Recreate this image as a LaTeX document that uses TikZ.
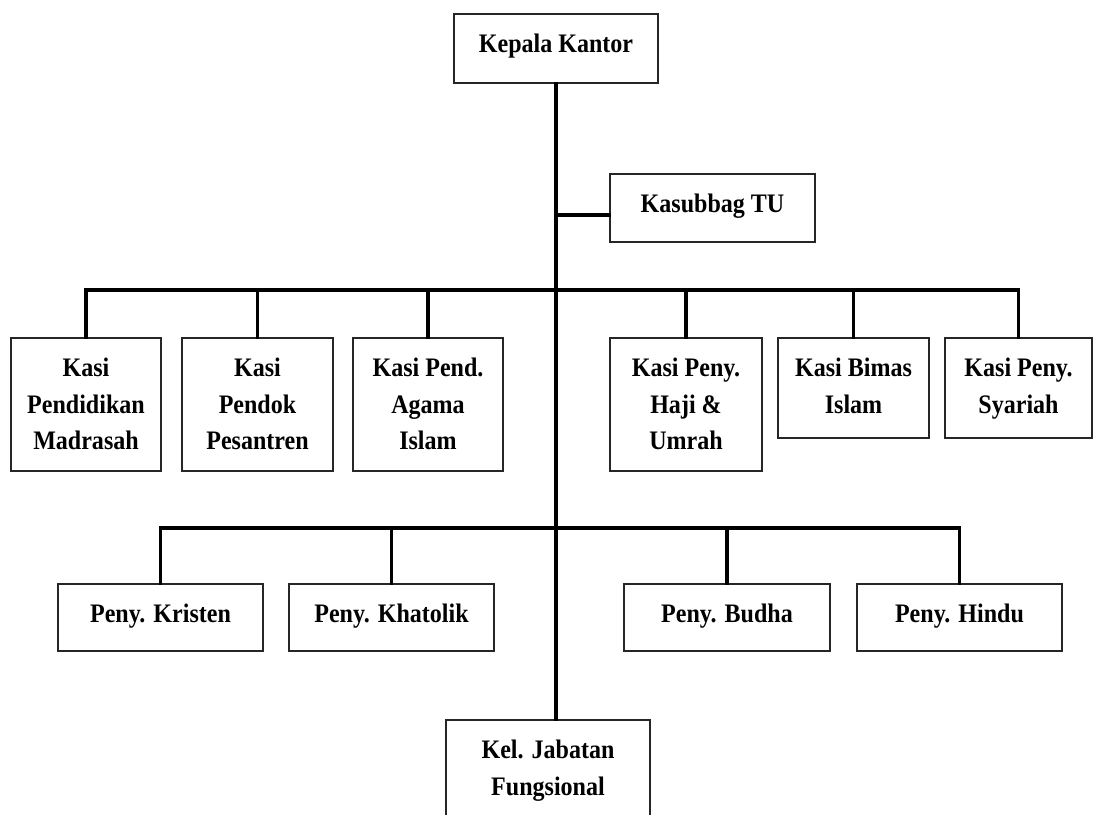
\documentclass[tikz,border=0pt]{standalone}
\usepackage{fontspec}
\setmainfont{Liberation Serif}[FakeStretch=0.9]
\usepackage{tikz}
\usetikzlibrary{positioning}

\begin{document}
\begin{tikzpicture}
			[
				x = 0.02cm, y = -0.02cm,
				unit/.style = {rectangle, draw = black!85, line width = 1pt, inner sep = 0pt, anchor = north},
				txt/.style = {anchor = north, yshift = -0.42cm, inner sep = 0pt, align = center, font = \fontsize{15.2}{20.6}\selectfont\bfseries},
				link/.style = {line width = 1.8pt, line cap = rect},
			]
			\useasboundingbox (0,0) rectangle (1094,814);
			% pimpinan
			\node (kepala) [unit, minimum width = 4.08cm, minimum height = 1.38cm, label = {[txt]north:Kepala Kantor}] at (556,13) {};
			\node (kasubbag) [unit, minimum width = 4.1cm, minimum height = 1.36cm, label = {[txt]north:Kasubbag TU}] at (712.5,173) {};
			% seksi
			\node (madrasah) [unit, minimum width = 3cm, minimum height = 2.66cm, label = {[txt]north:Kasi\\Pendidikan\\Madrasah}] at (86,337) {};
			\node (pendok) [unit, minimum width = 3.02cm, minimum height = 2.66cm, label = {[txt]north:Kasi\\Pendok\\Pesantren}] at (257.5,337) {};
			\node (agama) [unit, minimum width = 3cm, minimum height = 2.66cm, label = {[txt]north:Kasi Pend.\\Agama\\Islam}] at (428,337) {};
			\node (haji) [unit, minimum width = 3.04cm, minimum height = 2.66cm, label = {[txt]north:Kasi Peny.\\Haji \&\\Umrah}] at (686,337) {};
			\node (bimas) [unit, minimum width = 3.02cm, minimum height = 2cm, label = {[txt]north:Kasi Bimas\\Islam}] at (853.5,337) {};
			\node (syariah) [unit, minimum width = 2.94cm, minimum height = 2cm, label = {[txt]north:Kasi Peny.\\Syariah}] at (1018.5,337) {};
			% penyelenggara
			\node (kristen) [unit, minimum width = 4.1cm, minimum height = 1.34cm, label = {[txt]north:Peny. Kristen}] at (160.5,583) {};
			\node (khatolik) [unit, minimum width = 4.1cm, minimum height = 1.34cm, label = {[txt]north:Peny. Khatolik}] at (391.5,583) {};
			\node (budha) [unit, minimum width = 4.12cm, minimum height = 1.34cm, label = {[txt]north:Peny. Budha}] at (727,583) {};
			\node (hindu) [unit, minimum width = 4.1cm, minimum height = 1.34cm, label = {[txt]north:Peny. Hindu}] at (959.5,583) {};
			% fungsional
			\node (kel) [unit, minimum width = 4.08cm, minimum height = 2.4cm, label = {[txt]north:Kel. Jabatan\\Fungsional}] at (548,719) {};

			\coordinate (tu) at (556,215);
			\coordinate (bus1) at (556,290);
			\coordinate (bus2) at (556,528);
			\draw [link] (kepala.south) -- (kepala.south |- kel.north);
			\draw [link] (tu) -- (tu -| kasubbag.west);
			\draw [link] (madrasah.north) |- (bus1) -| (syariah.north);
			\foreach \n in {pendok, agama, haji, bimas}
				\draw [link] (\n.north) -- (\n.north |- bus1);
			\draw [link] (kristen.north) |- (bus2) -| (hindu.north);
			\foreach \n in {khatolik, budha}
				\draw [link] (\n.north) -- (\n.north |- bus2);
		\end{tikzpicture}
\end{document}
